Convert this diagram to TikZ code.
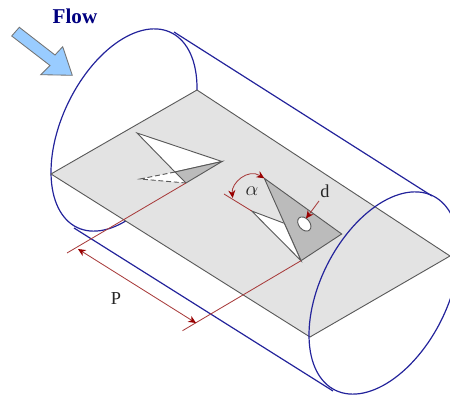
\documentclass[tikz,border=0pt]{standalone}
\usepackage{fontspec}
\setmainfont{Liberation Serif}
\usetikzlibrary{arrows.meta}
\definecolor{tubeblue}{HTML}{23239B}
\definecolor{dimred}{HTML}{A83C3C}
\definecolor{flowfill}{HTML}{99CCFF}
\definecolor{platefill}{HTML}{E3E3E3}
\definecolor{tabfill}{HTML}{BBBBBB}
\tikzset{
  tube/.style={color=tubeblue,line width=0.85pt},
  edge/.style={color=black!65,line width=0.65pt},
  dimline/.style={color=dimred,line width=0.6pt},
  dimarrow/.style={dimline,{Stealth[length=5.5pt,width=5pt,color=red!60!black]}-{Stealth[length=5.5pt,width=5pt,color=red!60!black]}},
  label/.style={color=black!85,font=\fontsize{13}{15}\selectfont,inner sep=0pt}
}
\begin{document}
\begin{tikzpicture}[x=0.025cm,y=-0.025cm]
            \clip (0,0) rectangle (450,399);
            % corners of the plate
            \coordinate (plateL) at (51,174);
            \coordinate (plateT) at (197,90);
            \coordinate (plateR) at (450,256);
            \coordinate (plateB) at (310,337);
            % first tab
            \coordinate (tabAa) at (137,133);
            \coordinate (tabAb) at (222,161.5);
            \coordinate (tabAc) at (186,183);
            \coordinate (tabAd) at (175,172);
            \coordinate (tabAe) at (140,179);
            % second tab
            \coordinate (tabBa) at (264.3,178.3);
            \coordinate (tabBb) at (341.7,234);
            \coordinate (tabBc) at (301,260.7);
            \coordinate (tabBd) at (284.3,223.3);
            \coordinate (tabBe) at (251.7,211);
            % free ends of the dimension lines
            \coordinate (dimA) at (67,253);
            \coordinate (dimB) at (182.5,330.7);
            \coordinate (dimC) at (224,194);
            \coordinate (arrP) at (78,249);
            \coordinate (arrQ) at (196,323);
            \coordinate (arcS) at (232.7,198);
            \coordinate (arrD) at (319,201);
            \coordinate (arrE) at (306,218.5);
            % left end of the tube goes behind the plate
            \draw[tube] plot[domain=0:360,samples=120] ({124+73*cos(\x)},{130-42*cos(\x)-92*sin(\x)});
            \draw[edge,fill=platefill] (plateL) -- (plateT) -- (plateR) -- (plateB) -- cycle;
            \draw[tube] (174,32) -- (432,196);
            \draw[tube] (74,228) -- (333,391);
            \draw[tube] plot[domain=0:360,samples=120] ({384+75*cos(\x)},{293-42*cos(\x)-92*sin(\x)});
            % tabs
            \draw[edge,fill=white] (tabAa) -- (tabAb) -- (tabAd) -- cycle;
            \fill[white] (tabAd) -- (tabAe) -- (tabAc) -- cycle;
            \draw[edge,dash pattern=on 3.5pt off 2pt] (tabAd) -- (tabAe) -- (tabAc);
            \draw[edge,fill=tabfill] (tabAb) -- (tabAc) -- (tabAd) -- cycle;
            \draw[edge,fill=tabfill] (tabBa) -- (tabBb) -- (tabBc) -- cycle;
            \draw[edge,fill=white] (tabBe) -- (tabBd) -- (tabBc) -- cycle;
            \draw[edge,fill=white] (304.3,224) ellipse[x radius=8,y radius=5.5,rotate=-50];
            % dimensions
            \draw[dimline] (tabAc) -- (dimA);
            \draw[dimline] (tabBc) -- (dimB);
            \draw[dimline] (tabBe) -- (dimC);
            \draw[dimarrow] (arrP) -- (arrQ);
            \draw[dimarrow] (arcS) .. controls (231,183) and (248,168) .. (tabBa);
            \draw[dimline,-{Stealth[length=5.5pt,width=5pt,color=red!60!black]}] (arrD) -- (arrE);
            % flow arrow
            \draw[color=black!55,line width=0.6pt,fill=flowfill] (11.7,36) -- (19.3,27.3) -- (55,55) -- (62.7,46.7) -- (72.3,75.3) -- (40.7,74.7) -- (50,65.5) -- cycle;
            \node[font=\fontsize{15}{17}\selectfont\bfseries,color=blue!50!black,inner sep=0pt] (flow) at (75,16) {Flow};
            \node[label] (pitch) at (116,299) {P};
            \node[label,font=\fontsize{15}{17}\selectfont] (angle) at (252,191) {$\alpha$};
            \node[label] (dia) at (325,191) {d};
        \end{tikzpicture}
\end{document}
